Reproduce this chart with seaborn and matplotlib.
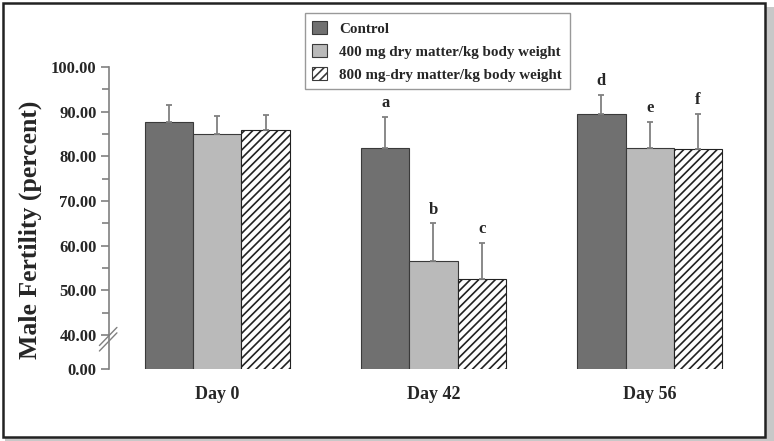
import matplotlib
matplotlib.use("Agg")
import matplotlib.pyplot as plt
import matplotlib.patches as mpatches
import pandas as pd
import seaborn as sns

# data
days = ["Day 0", "Day 42", "Day 56"]
groups = ["Control", "400 mg dry matter/kg body weight", "800 mg-dry matter/kg body weight"]
control = [87.7, 81.8, 89.4]
dose400 = [85.1, 56.7, 81.9]
dose800 = [85.8, 52.5, 81.6]
sd_control = [3.8, 7.1, 4.4]
sd_400 = [4.0, 8.3, 5.8]
sd_800 = [3.5, 8.2, 7.9]
letters = [["", "a", "d"], ["", "b", "e"], ["", "c", "f"]]

ytick_vals = [32.4, 40, 50, 60, 70, 80, 90, 100]
ytick_labels = ["0.00", "40.00", "50.00", "60.00", "70.00", "80.00", "90.00", "100.00"]

sns.set_style("white")
plt.rcParams["font.family"] = ["Liberation Serif", "DejaVu Serif"]
plt.rcParams["font.weight"] = "bold"
plt.rcParams["hatch.linewidth"] = 1.2
plt.rcParams["hatch.color"] = "#222222"

df = pd.DataFrame({
    "day": days * 3,
    "group": [g for g in groups for _ in days],
    "value": control + dose400 + dose800,
})
sds = [sd_control, sd_400, sd_800]

fig = plt.figure(figsize=(7.74, 4.41), dpi=100)
ax = fig.add_axes([0.141, 0.163, 0.838, 0.685])

palette = {groups[0]: "#707070", groups[1]: "#bababa", groups[2]: "white"}
sns.barplot(data=df, x="day", y="value", hue="group", hue_order=groups,
            order=days, palette=palette, width=0.67, gap=0, errorbar=None,
            edgecolor="#3a3a3a", linewidth=0.8, legend=False, ax=ax)

bar_groups = list(ax.containers)[:3]
for i, cont in enumerate(bar_groups):
    for j, bar in enumerate(cont.patches):
        if i == 2:
            bar.set_hatch("////")
            bar.set_edgecolor("#222222")
        xc = bar.get_x() + bar.get_width() / 2
        top = bar.get_height()
        ax.errorbar(xc, top, yerr=[[0], [sds[i][j]]], fmt="none",
                    ecolor="#808080", elinewidth=1.3, capsize=2.5, capthick=1.3)
        if letters[i][j]:
            ax.annotate(letters[i][j], (xc, top + sds[i][j]), xytext=(0, 4),
                        textcoords="offset points", ha="center", va="bottom",
                        fontsize=12, fontweight="bold")

ax.set_ylim(32.4, 100)
ax.set_xlim(-0.5, 2.5)
ax.set_yticks(ytick_vals)
ax.set_yticklabels(ytick_labels, fontsize=12, fontweight="bold")
ax.set_yticks([45, 55, 65, 75, 85, 95], minor=True)
ax.tick_params(axis="y", which="both", left=True, direction="out",
               color="#808080", width=1.2)
ax.tick_params(axis="y", which="major", length=6, pad=3)
ax.tick_params(axis="y", which="minor", length=5)
ax.tick_params(axis="x", length=0, labelsize=13, pad=12)
for lab in ax.get_xticklabels():
    lab.set_fontweight("bold")
ax.set_xlabel("")
ax.set_ylabel("Male Fertility (percent)", fontsize=18.5, fontweight="bold")
ax.yaxis.set_label_coords(-0.104, 0.46)

for s in ["top", "right", "bottom"]:
    ax.spines[s].set_visible(False)
ax.spines["left"].set_color("#808080")
ax.spines["left"].set_linewidth(1.2)

# axis break marks
for dy in (0.0, 0.018):
    ax.plot([-0.015, 0.012], [0.06 + dy, 0.12 + dy], transform=ax.transAxes,
            color="#808080", lw=1.0, clip_on=False)

handles = [mpatches.Patch(facecolor=palette[g], edgecolor="#3a3a3a", lw=0.8,
                          hatch="////" if k == 2 else None) for k, g in enumerate(groups)]
leg = ax.legend(handles, groups, loc="upper left", bbox_to_anchor=(0.394, 0.97),
                bbox_transform=fig.transFigure, borderaxespad=0, frameon=True,
                fancybox=False, edgecolor="#808080", handlelength=1.0, handleheight=1.0,
                borderpad=0.5, labelspacing=0.55, handletextpad=0.8,
                prop={"weight": "bold", "size": 10.8})
leg.get_frame().set_linewidth(1.0)

# outer frame with a light shadow
fig.patches.append(mpatches.Rectangle((0.006, 0.0), 0.994, 0.985, transform=fig.transFigure,
                                      facecolor="#c8c8c8", edgecolor="none", zorder=-2))
fig.patches.append(mpatches.Rectangle((0.004, 0.008), 0.985, 0.985, transform=fig.transFigure,
                                      facecolor="white", edgecolor="#222222", lw=1.8, zorder=-1))

fig.savefig("out.png", dpi=100)
